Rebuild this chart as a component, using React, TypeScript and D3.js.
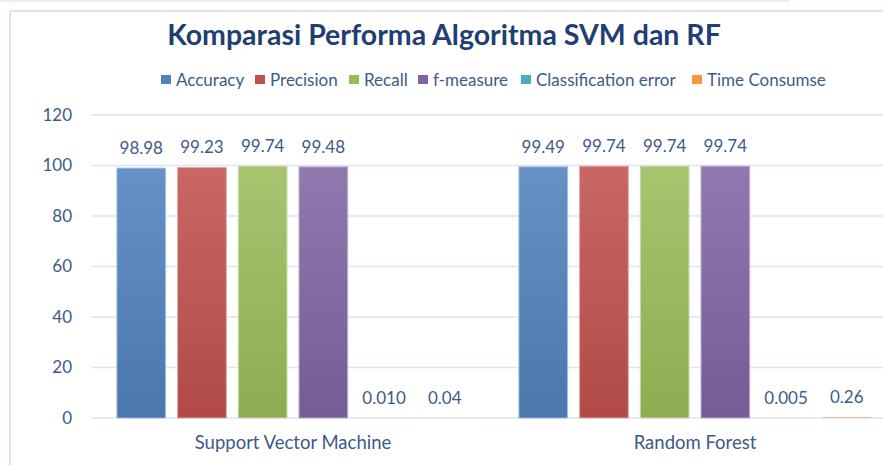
import React from "react";
import * as d3 from "d3";

const categories = ["Support Vector Machine", "Random Forest"];
const seriesNames = ["Accuracy", "Precision", "Recall", "f-measure", "Classification error", "Time Consumse"];
const seriesColors = ["#4F81BD", "#C0504D", "#9BBB59", "#8064A2", "#4BACC6", "#F79646"];
const svmValues = [98.98, 99.23, 99.74, 99.48, 0.01, 0.04];
const rfValues = [99.49, 99.74, 99.74, 99.74, 0.005, 0.26];
const svmLabels = ["98.98", "99.23", "99.74", "99.48", "0.010", "0.04"];
const rfLabels = ["99.49", "99.74", "99.74", "99.74", "0.005", "0.26"];
const yTicks = [0, 20, 40, 60, 80, 100, 120];

const W = 883;
const H = 465;
const FONT = "Lato, 'Noto Sans', sans-serif";
const TEXT = "#3D5A88";

export default function App() {
  const y = d3.scaleLinear().domain([0, 120]).range([418, 115]);
  const x0 = d3.scaleBand().domain(categories).range([92, 896]).paddingInner(0).paddingOuter(0);
  const x1 = d3
    .scaleBand()
    .domain(seriesNames)
    .range([0, x0.bandwidth()])
    .paddingInner(0.197)
    .paddingOuter(0.41);
  const values = [svmValues, rfValues];
  const labels = [svmLabels, rfLabels];

  // legend text starts
  const legendTextX = [176, 270, 364, 433, 536, 707];

  return (
    <svg
      width={W}
      height={H}
      style={{ position: "absolute", left: 0, top: 0, background: "#fff" }}
      fontFamily={FONT}
    >
      <defs>
        {seriesColors.map((c, i) => {
          const top = d3.interpolateRgb(c, "#ffffff")(0.13);
          const bot = d3.interpolateRgb(c, "#000000")(0.08);
          return (
            <linearGradient key={i} id={`g${i}`} x1="0" y1="0" x2="0" y2="1">
              <stop offset="0" stopColor={top} />
              <stop offset="1" stopColor={bot} />
            </linearGradient>
          );
        })}
      </defs>
      <rect x={0} y={0} width={790} height={2} fill="#EEEEEE" />
      <rect x={10} y={11} width={900} height={470} fill="#fff" stroke="#DAE4F4" strokeWidth={2} />
      <text
        x={444}
        y={45}
        textAnchor="middle"
        fontSize={28.5}
        fontWeight="bold"
        fill="#1F3F73"
      >
        Komparasi Performa Algoritma SVM dan RF
      </text>
      {seriesNames.map((s, i) => (
        <g key={s} transform={`translate(${legendTextX[i]},80)`}>
          <rect x={-15} y={-5} width={10} height={9} fill={seriesColors[i]} />
          <text x={0} y={0} dy="0.35em" fontSize={17} fill={TEXT}>
            {s}
          </text>
        </g>
      ))}
      {yTicks.map((t) => (
        <g key={t}>
          <line x1={91} x2={883} y1={y(t)} y2={y(t)} stroke="#DCE5F3" strokeWidth={1.5} />
          <text x={72} y={y(t)} dy="0.35em" textAnchor="end" fontSize={17} fill={TEXT}>
            {t}
          </text>
        </g>
      ))}
      {categories.map((c, ci) => (
        <g key={c} transform={`translate(${x0(c)},0)`}>
          {seriesNames.map((s, si) => {
            const v = values[ci][si];
            const bx = x1(s)!;
            const bw = x1.bandwidth();
            const h = y(0) - y(v);
            return (
              <g key={s}>
                <rect
                  x={bx}
                  y={y(v)}
                  width={bw}
                  height={h}
                  fill={`url(#g${si})`}
                  stroke={h > 2 ? d3.interpolateRgb(seriesColors[si], "#ffffff")(0.5) : "none"}
                  strokeWidth={1}
                />
                <text
                  x={bx + bw / 2}
                  y={y(v) - 20}
                  dy="0.35em"
                  textAnchor="middle"
                  fontSize={17}
                  fill={TEXT}
                >
                  {labels[ci][si]}
                </text>
              </g>
            );
          })}
          <text
            x={x0.bandwidth() / 2}
            y={443}
            dy="0.35em"
            textAnchor="middle"
            fontSize={18.5}
            fill={TEXT}
          >
            {c}
          </text>
        </g>
      ))}
    </svg>
  );
}
